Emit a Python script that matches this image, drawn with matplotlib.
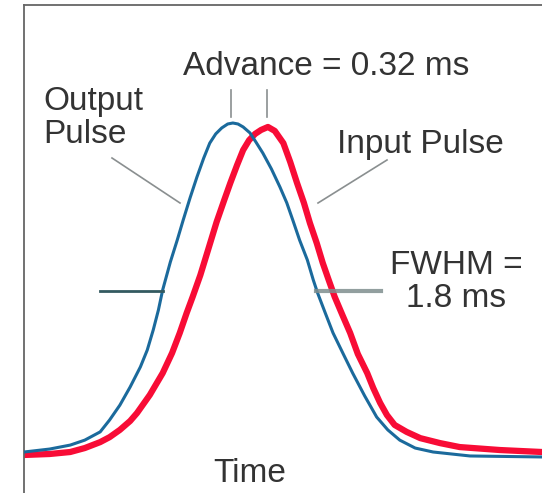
import matplotlib
matplotlib.use("Agg")
import matplotlib.pyplot as plt

# time in ms (output peak at 0), normalized intensity
out_t = [-2.43, -2.13, -1.89, -1.72, -1.54, -1.43, -1.31, -1.19, -1.07, -0.99,
         -0.92, -0.86, -0.81, -0.72, -0.64, -0.57, -0.49, -0.41, -0.33, -0.26,
         -0.19, -0.12, -0.05, 0.01, 0.07, 0.13, 0.21, 0.28, 0.36, 0.46,
         0.56, 0.64, 0.71, 0.79, 0.88, 0.95, 1.00, 1.09, 1.18, 1.30,
         1.41, 1.55, 1.69, 1.82, 1.96, 2.14, 2.35, 2.78, 3.62]
out_a = [0.003, 0.012, 0.024, 0.039, 0.064, 0.100, 0.145, 0.200, 0.261, 0.312,
         0.373, 0.433, 0.494, 0.579, 0.645, 0.706, 0.773, 0.836, 0.894, 0.939,
         0.967, 0.985, 0.997, 1.0, 0.997, 0.988, 0.970, 0.942, 0.909, 0.861,
         0.806, 0.758, 0.706, 0.645, 0.585, 0.524, 0.485, 0.424, 0.364, 0.300,
         0.242, 0.173, 0.109, 0.070, 0.039, 0.015, 0.003, -0.009, -0.012]

in_t = [-2.43, -2.13, -1.89, -1.72, -1.54, -1.43, -1.31, -1.19, -1.11, -0.96,
        -0.81, -0.70, -0.61, -0.53, -0.46, -0.37, -0.28, -0.18, -0.09, -0.02,
        0.06, 0.13, 0.20, 0.27, 0.34, 0.42, 0.50, 0.60, 0.68, 0.76,
        0.84, 0.91, 0.99, 1.06, 1.13, 1.20, 1.29, 1.38, 1.47, 1.58,
        1.65, 1.73, 1.81, 1.90, 2.04, 2.20, 2.43, 2.66, 3.13, 3.62]
in_a = [-0.006, -0.003, 0.003, 0.015, 0.033, 0.048, 0.070, 0.097, 0.121, 0.176,
        0.242, 0.303, 0.364, 0.424, 0.473, 0.539, 0.615, 0.700, 0.767, 0.818,
        0.873, 0.918, 0.948, 0.967, 0.979, 0.988, 0.976, 0.939, 0.882, 0.818,
        0.758, 0.697, 0.636, 0.576, 0.524, 0.473, 0.418, 0.364, 0.300, 0.242,
        0.197, 0.152, 0.115, 0.085, 0.064, 0.045, 0.030, 0.018, 0.009, 0.003]


def px(x, y):
    # picture pixel -> data coords
    return (x - 232) / 85.6, (453 - y) / 330


plt.rcParams['font.family'] = ['Liberation Sans', 'DejaVu Sans']

fig = plt.figure(figsize=(5.42, 4.93), dpi=100)
ax = fig.add_axes([24 / 542, 0, 1 - 24 / 542, 488 / 493])
x0, _ = px(24, 0)
x1, _ = px(542, 0)
_, y0 = px(0, 493)
_, y1 = px(0, 5)
ax.set_xlim(x0, x1)
ax.set_ylim(y0, y1)
ax.set_xticks([])
ax.set_yticks([])
for s in ['right', 'bottom']:
    ax.spines[s].set_visible(False)
for s in ['left', 'top']:
    ax.spines[s].set_color('#666666')
    ax.spines[s].set_linewidth(1.3)

ax.plot(in_t, in_a, color='#f80c36', lw=4.5, solid_joinstyle='round', zorder=2)
ax.plot(out_t, out_a, color='#1b6a9c', lw=2.2, solid_joinstyle='round', zorder=3)

txt = dict(color='#333333', fontsize=24)
ax.text(*px(326, 66), 'Advance = 0.32 ms', ha='center', va='center', **txt)
ax.text(*px(43, 118), 'Output\nPulse', ha='left', va='center', linespacing=1.05, **txt)
ax.text(*px(420, 144), 'Input Pulse', ha='center', va='center', **txt)
ax.text(*px(456, 282), 'FWHM =\n1.8 ms', ha='center', va='center', linespacing=1.05, **txt)
ax.text(*px(250, 474), 'Time', ha='center', va='center', **txt)

lc = '#8a8f90'
for xa, ya, xb, yb in [(231, 90, 231, 117), (267, 90, 267, 117),
                       (112, 158, 180, 203), (387, 160, 318, 203)]:
    (ta, aa), (tb, ab) = px(xa, ya), px(xb, yb)
    ax.plot([ta, tb], [aa, ab], color=lc, lw=1.2, zorder=1)

(ta, aa), (tb, ab) = px(100, 291), px(163, 291)
ax.plot([ta, tb], [aa, ab], color='#335a60', lw=2, zorder=4)
(ta, aa), (tb, ab) = px(316, 291), px(381, 291)
ax.plot([ta, tb], [aa, ab], color='#7f8e8e', lw=3, alpha=0.85, zorder=4)

fig.savefig('out.png', dpi=100)
